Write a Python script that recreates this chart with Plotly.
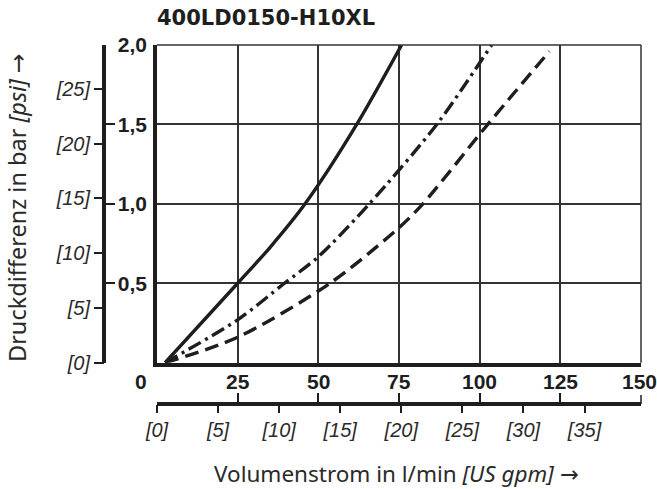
import plotly.graph_objects as go

# ---- data (l/min, bar) ----
flow_solid = [2.5, 25, 35, 45.9, 61.9, 75.8]
dp_solid = [0, 0.5, 0.725, 1.0, 1.5, 2.0]

flow_dashdot = [2.5, 25, 39.5, 50, 65.8, 86.7, 103.7]
dp_dashdot = [0, 0.27, 0.5, 0.667, 1.0, 1.5, 2.0]

flow_dashed = [2.5, 25, 53.6, 75, 82.4, 102.5, 121.6]
dp_dashed = [0, 0.16, 0.5, 0.85, 1.0, 1.5, 1.96]

lmin_ticks = [0, 25, 50, 75, 100, 125, 150]
lmin_labels = ["0", "25", "50", "75", "100", "125", "150"]
bar_ticks = [0, 0.5, 1.0, 1.5, 2.0]
bar_labels = ["", "0,5", "1,0", "1,5", "2,0"]
gpm_ticks = [0, 5, 10, 15, 20, 25, 30, 35]
gpm_labels = ["[0]", "[5]", "[10]", "[15]", "[20]", "[25]", "[30]", "[35]"]
psi_ticks = [0, 5, 10, 15, 20, 25]
psi_labels = ["[0]", "[5]", "[10]", "[15]", "[20]", "[25]"]

title_text = "400LD0150-H10XL"
x_title = "Volumenstrom in l/min <i>[US gpm]</i> →"
y_title = "Druckdifferenz in bar <i>[psi]</i> →"

LMIN_PER_GPM = 3.785411784
PSI_PER_BAR = 14.5038
X_MAX = 150
Y_MAX = 2.0

INK = "#1e1e1e"
BOLD = "Liberation Sans Narrow, Liberation Sans, Arial"
ITAL = "Liberation Sans Narrow, Liberation Sans, Arial"
REG = "Noto Sans, Open Sans, DejaVu Sans"

# layout geometry (pixels)
W, H = 657, 489
ML, MR, MT, MB = 104, 16, 45, 85
PW, PH = W - ML - MR, H - MT - MB
xdom = [(157 - ML) / PW, 1]
ydom = [(404 - 362.7) / PH, 1]


def px_x(px):
    return (px - ML) / PW


def px_y(py):
    return (H - MB - py) / PH


fig = go.Figure()
line_w = 3.4
fig.add_trace(go.Scatter(x=flow_solid, y=dp_solid, mode="lines",
                         line=dict(color=INK, width=line_w, shape="spline", smoothing=0.8),
                         xaxis="x", yaxis="y", showlegend=False, hoverinfo="skip"))
fig.add_trace(go.Scatter(x=flow_dashdot, y=dp_dashdot, mode="lines",
                         line=dict(color=INK, width=line_w, shape="spline", smoothing=0.8,
                                   dash="14px,5px,3px,5px"),
                         xaxis="x", yaxis="y", showlegend=False, hoverinfo="skip"))
fig.add_trace(go.Scatter(x=flow_dashed, y=dp_dashed, mode="lines",
                         line=dict(color=INK, width=line_w, shape="spline", smoothing=0.8,
                                   dash="14px,7px"),
                         xaxis="x", yaxis="y", showlegend=False, hoverinfo="skip"))

# invisible carrier traces so the secondary scales are drawn
for xa, ya in [("x2", "y"), ("x3", "y"), ("x", "y2"), ("x", "y3")]:
    fig.add_trace(go.Scatter(x=[None], y=[None], mode="markers", xaxis=xa, yaxis=ya,
                             showlegend=False, hoverinfo="skip",
                             marker=dict(opacity=0)))

grid_kw = dict(showgrid=True, gridcolor="#333333", gridwidth=1.5, zeroline=False)

fig.update_layout(
    width=W, height=H,
    margin=dict(l=ML, r=MR, t=MT, b=MB),
    paper_bgcolor="white", plot_bgcolor="white",
    xaxis=dict(domain=xdom, range=[0, X_MAX], anchor="y",
               tickvals=lmin_ticks, showticklabels=False, ticks="",
               showline=True, linewidth=3.5, linecolor=INK, **grid_kw),
    yaxis=dict(domain=ydom, range=[0, Y_MAX], anchor="x",
               tickvals=bar_ticks, ticktext=bar_labels, ticks="",
               ticklabelstandoff=2,
               tickfont=dict(family=BOLD, size=21, color=INK, weight="bold"),
               showline=True, linewidth=3.5, linecolor=INK, **grid_kw),
    xaxis2=dict(domain=xdom, range=[0, X_MAX], overlaying="x", anchor="free",
                position=0, side="bottom", tickvals=lmin_ticks,
                showticklabels=False, ticks="inside", ticklen=9, tickwidth=1.5,
                tickcolor=INK, showline=True, linewidth=3.5, linecolor=INK,
                showgrid=False, zeroline=False),
    xaxis3=dict(domain=xdom, range=[0, X_MAX / LMIN_PER_GPM], overlaying="x",
                anchor="free", position=0, side="bottom",
                tickvals=gpm_ticks, ticktext=gpm_labels,
                ticks="outside", ticklen=8, tickwidth=1.5, tickcolor=INK,
                tickfont=dict(family=ITAL, size=20, color="#2a2a2a", style="italic"),
                showline=False, showgrid=False, zeroline=False),
    yaxis2=dict(domain=ydom, range=[0, Y_MAX], overlaying="y", anchor="free",
                position=0, side="left", tickvals=bar_ticks[1:],
                showticklabels=False, ticks="inside", ticklen=9, tickwidth=1.5,
                tickcolor=INK, showline=True, linewidth=3.5, linecolor=INK,
                showgrid=False, zeroline=False),
    yaxis3=dict(domain=ydom, range=[0, Y_MAX * PSI_PER_BAR], overlaying="y",
                anchor="free", position=0, side="left",
                tickvals=psi_ticks, ticktext=psi_labels,
                ticks="outside", ticklen=10, tickwidth=1.5, tickcolor=INK,
                tickfont=dict(family=ITAL, size=20, color="#2a2a2a", style="italic"),
                showline=False, showgrid=False, zeroline=False),
)

# l/min tick labels between the plot and the lower scale line
for v, t in zip(lmin_ticks, lmin_labels):
    shift = -16 if v == 0 else (-2 if v == X_MAX else 0)
    fig.add_annotation(x=v, y=0, xref="x", yref="y", text=t, showarrow=False,
                       xshift=shift, yshift=-19, xanchor="center", yanchor="middle",
                       font=dict(family=BOLD, size=21, color=INK, weight="bold"))

fig.add_annotation(x=px_x(155), y=px_y(18), xref="paper", yref="paper",
                   text=title_text, showarrow=False, xanchor="left", yanchor="middle",
                   font=dict(family="DejaVu Sans", size=21, color=INK, weight="bold"))
fig.add_annotation(x=px_x(396), y=px_y(456), xref="paper", yref="paper",
                   text=x_title, showarrow=False, xanchor="center", yanchor="top",
                   font=dict(family=REG, size=22.5, color="#2a2a2a"))
fig.add_annotation(x=px_x(17), y=px_y(208), xref="paper", yref="paper",
                   text=y_title, showarrow=False, textangle=-90,
                   xanchor="center", yanchor="middle",
                   font=dict(family=REG, size=23.5, color="#2a2a2a"))
# thin top and right frame lines
fig.add_shape(type="line", xref="paper", yref="paper",
              x0=xdom[0], x1=1, y0=1, y1=1, line=dict(color="#333333", width=1.5))
fig.add_shape(type="line", xref="paper", yref="paper",
              x0=1, x1=1, y0=ydom[0], y1=1, line=dict(color="#333333", width=1.5))
# upward tick at the end of the l/min scale
fig.add_shape(type="line", xref="paper", yref="paper",
              x0=1, x1=1, y0=0, y1=9 / PH, line=dict(color=INK, width=1.5))

fig.write_html("out.html")
